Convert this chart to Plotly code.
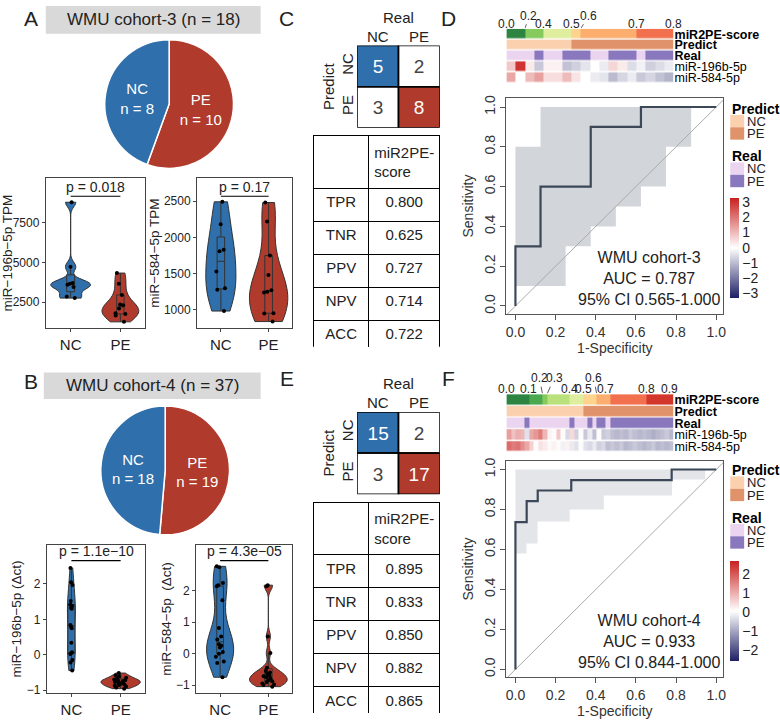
import numpy as np
import plotly.graph_objects as go

W, H = 780, 721
FONT = "Liberation Sans, Arial, sans-serif"
INK = "#222222"
BLUE = "#2F6FAB"
RED = "#B03B2C"
PRED_NC, PRED_PE = "#FBD0AF", "#E0926A"
REAL_NC, REAL_PE = "#EBD4EF", "#8A78BE"
MINUS = "\u2212"

# ---------------- data ----------------
groups = ["PE", "NC"]
A_counts = [10, 8]
B_counts = [19, 18]
A_title = "WMU cohort-3 (n = 18)"
B_title = "WMU cohort-4 (n = 37)"

A_196_nc = [8800, 4730, 3700, 3650, 3600, 3450, 2850, 2750]
A_196_pe = [4330, 3650, 2950, 2350, 2300, 2100, 1800, 1750, 1650, 1250]
A_584_nc = [2490, 2180, 1830, 1810, 1530, 1300, 1280, 985]
A_584_pe = [2480, 2220, 1750, 1480, 1270, 1250, 1240, 955, 950, 840]
B_196_nc = [2.45, 2.05, 1.97, 1.52, 1.42, 1.38, 1.33, 1.30, 0.84, 0.80, 0.75,
            0.34, 0.07, 0.04, 0.02, -0.15, -0.22, -0.45]
B_196_pe = [-0.52, -0.58, -0.62, -0.65, -0.68, -0.70, -0.72, -0.74, -0.75, -0.77,
            -0.78, -0.80, -0.82, -0.84, -0.86, -0.88, -0.90, -0.93, -0.96]
B_584_nc = [2.78, 2.75, 2.25, 2.18, 2.15, 1.70, 0.82, 0.55, 0.45, 0.30, 0.25,
            0.20, 0.05, 0.0, -0.10, -0.25, -0.30, -0.75]
B_584_pe = [2.18, 2.15, 0.55, 0.02, -0.45, -0.55, -0.60, -0.65, -0.70, -0.72,
            -0.75, -0.80, -0.85, -0.88, -0.90, -0.95, -0.98, -1.0, -1.05]
p_labels = ["p = 0.018", "p = 0.17", "p = 1.1e" + MINUS + "10", "p = 4.3e" + MINUS + "05"]
y_titles = ["miR" + MINUS + "196b" + MINUS + "5p TPM", "miR" + MINUS + "584" + MINUS + "5p TPM",
            "miR" + MINUS + "196b" + MINUS + "5p (\u0394ct)", "miR" + MINUS + "584" + MINUS + "5p  (\u0394ct)"]

cm_labels = ["NC", "PE"]
C_cm = [[5, 2], [3, 8]]
E_cm = [[15, 2], [3, 17]]
metrics = ["TPR", "TNR", "PPV", "NPV", "ACC"]
C_vals = ["0.800", "0.625", "0.727", "0.714", "0.722"]
E_vals = ["0.895", "0.833", "0.850", "0.882", "0.865"]

D_score = [0.05, 0.08, 0.22, 0.28, 0.42, 0.45, 0.48, 0.55, 0.62, 0.63, 0.65, 0.66,
           0.67, 0.69, 0.72, 0.74, 0.77, 0.79]
D_real = ["NC", "NC", "NC", "PE", "NC", "NC", "PE", "PE", "PE", "NC", "NC", "PE",
          "PE", "PE", "NC", "PE", "PE", "PE"]
D_mir196 = [0.8, 3.0, 0.3, -0.8, 0.2, 0.2, -0.9, -0.7, -0.4, 0.0, -0.3, 0.6, 0.3,
            -0.5, -0.2, -0.7, -0.5, -0.3]
D_mir584 = [1.3, 0.0, 1.0, 1.4, 0.5, 0.5, 1.0, 0.4, 0.0, -0.3, -0.4, -1.0, -0.6,
            -0.3, -0.8, -0.6, -0.9, -1.1]
D_ticks = ["0.0", "0.2", "0.4", "0.5", "0.6", "0.7", "0.8"]

F_score = [0.02, 0.04, 0.05, 0.07, 0.09, 0.12, 0.15, 0.18, 0.22, 0.30, 0.32, 0.34,
           0.36, 0.38, 0.42, 0.45, 0.48, 0.52, 0.55, 0.58, 0.62, 0.66, 0.70, 0.71,
           0.72, 0.73, 0.74, 0.75, 0.76, 0.77, 0.79, 0.80, 0.82, 0.84, 0.86, 0.88, 0.89]
F_real = ["NC"] * 4 + ["PE"] + ["NC"] * 9 + ["PE"] + ["NC"] * 3 + ["PE", "NC", "PE", "PE", "NC"] + ["PE"] * 14
F_mir196 = [1.2, 0.8, 1.0, 0.9, -0.3, 1.1, 1.3, 1.6, 0.9, 0.2, 0.0, 0.7, 0.1, -0.4,
            0.5, -0.5, 0.1, -0.6, -0.2, -0.7, 0.1, -0.6, -0.5, -0.7, -0.8, -0.7,
            -0.8, -0.6, -0.7, -0.8, -0.7, -0.8, -0.9, -0.8, -0.7, -0.6, -0.8]
F_mir584 = [1.8, 1.6, 1.7, 1.4, 1.1, 0.6, 0.1, 0.4, 0.3, 0.0, 0.2, 0.1, -0.1, 0.2,
            -0.2, -0.3, 0.0, -0.3, -0.4, -0.2, -0.5, -0.4, -0.7, -0.6, -0.7, -0.6,
            -0.8, -0.7, -0.6, -0.7, -0.8, -0.7, -0.6, -0.8, -0.7, -0.8, -0.7]
F_ticks = ["0.0", "0.1", "0.2", "0.3", "0.4", "0.5", "0.6", "0.7", "0.8", "0.9"]
row_names = ["<b>miR2PE-score</b>", "<b>Predict</b>", "<b>Real</b>", "miR-196b-5p", "miR-584-5p"]

D_fpr = [0, 0, 0.125, 0.125, 0.375, 0.375, 0.625, 0.625, 1.0]
D_tpr = [0, 0.3, 0.3, 0.6, 0.6, 0.9, 0.9, 1.0, 1.0]
D_ci_x = [0, 0, 0.125, 0.125, 0.875, 0.875, 0.75, 0.75, 0.625, 0.625, 0.5, 0.5, 0.375, 0.375, 0.25, 0.25]
D_ci_y = [0.1, 0.8, 0.8, 1.0, 1.0, 0.8, 0.8, 0.6, 0.6, 0.5, 0.5, 0.4, 0.4, 0.3, 0.3, 0.1]
D_text = ["WMU cohort-3", "AUC = 0.787", "95% CI 0.565-1.000"]
F_fpr = [0, 0, 0.056, 0.056, 0.111, 0.111, 0.278, 0.278, 0.778, 0.778, 1.0]
F_tpr = [0, 0.737, 0.737, 0.842, 0.842, 0.895, 0.895, 0.947, 0.947, 1.0, 1.0]
F_ci_x = [0, 0.945, 0.945, 0.78, 0.78, 0.44, 0.44, 0.27, 0.27, 0.11, 0.11, 0.055, 0.055, 0]
F_ci_y = [1.0, 1.0, 0.95, 0.95, 0.87, 0.87, 0.80, 0.80, 0.74, 0.74, 0.63, 0.63, 0.58, 0.58]
F_text = ["WMU cohort-4", "AUC = 0.933", "95% CI 0.844-1.000"]
roc_ticks = [0, 0.2, 0.4, 0.6, 0.8, 1.0]

# ---------------- helpers ----------------
def px(x):
    return x / W

def py(y):
    return 1 - y / H

def k(n):
    return "" if n == 1 else str(n)

def nrd0(v):
    # R's default density bandwidth, so the violins look like ggplot's
    v = np.asarray(v, dtype=float)
    q75, q25 = np.percentile(v, [75, 25])
    return 0.9 * min(v.std(ddof=1), (q75 - q25) / 1.34) * len(v) ** -0.2

fig = go.Figure()
lay = {}
shapes = []
ann = []

def text(x, y, s, size=14, **kw):
    d = dict(x=x, y=y, text=s, showarrow=False, xanchor="center", yanchor="middle",
             xref="paper", yref="paper", font=dict(size=size, color=INK, family=FONT))
    d.update(kw)
    ann.append(d)

# panel letters
for lab, (x, y) in zip("ABCDEF", [(30, 16), (30, 382), (287, 16), (450, 16), (287, 379), (450, 379)]):
    text(px(x), py(y), lab, size=21)

# ---------------- pies + title bars ----------------
for counts, title, bar, pie in [(A_counts, A_title, (45, 3, 261, 31), (104, 37, 234, 167)),
                                (B_counts, B_title, (43, 373, 261, 400), (100, 407, 230, 537))]:
    shapes.append(dict(type="rect", xref="paper", yref="paper", x0=px(bar[0]), x1=px(bar[2]),
                       y0=py(bar[3]), y1=py(bar[1]), fillcolor="#D9D9D9", line=dict(width=0), layer="below"))
    text(px((bar[0] + bar[2]) / 2), py((bar[1] + bar[3]) / 2), title, size=17)
    fig.add_trace(go.Pie(labels=groups, values=counts, sort=False, direction="clockwise", rotation=0,
                         text=[f"{g}<br>n = {c}" for g, c in zip(groups, counts)], textinfo="text",
                         textposition="inside", insidetextorientation="horizontal",
                         textfont=dict(color="white", size=15, family=FONT),
                         marker=dict(colors=[RED, BLUE], line=dict(color="white", width=1.5)),
                         domain=dict(x=[px(pie[0]), px(pie[2])], y=[py(pie[3]), py(pie[1])]),
                         hoverinfo="skip", showlegend=False))

# ---------------- violins ----------------
violin_sets = [(A_196_nc, A_196_pe), (A_584_nc, A_584_pe), (B_196_nc, B_196_pe), (B_584_nc, B_584_pe)]
violin_boxes = [((45, 145), (177, 328)), ((197, 293), (177, 328)), ((46, 145), (547, 697)), ((196, 293), (547, 697))]
violin_ranges = [[875, 10312], [754, 2814], [-1.09, 3.11], [-1.26, 3.47]]
violin_ticks = [[2500, 5000, 7500], [1000, 1500, 2000, 2500], [-1, 0, 1, 2], [-1, 0, 1, 2]]
violin_widths = [(0.8, 0.74), (0.63, 0.8), (0.16, 0.8), (0.56, 0.78)]
box_widths = [(0.2, 0.2), (0.25, 0.2), (0.9, 0.2), (0.25, 0.2)]
pline_y = [0.88, 0.88, 0.893, 0.893]

for i, (nc, pe) in enumerate(violin_sets):
    n = i + 1
    for grp, vals, col, w, bw in [("NC", nc, BLUE, violin_widths[i][0], box_widths[i][0]),
                                  ("PE", pe, RED, violin_widths[i][1], box_widths[i][1])]:
        fig.add_trace(go.Violin(x=[grp] * len(vals), y=vals, xaxis="x" + k(n), yaxis="y" + k(n),
                                fillcolor=col, opacity=1, line=dict(color="#333333", width=1),
                                width=w, spanmode="hard", bandwidth=nrd0(vals),
                                points="all", pointpos=0, jitter=0.4,
                                marker=dict(color="black", size=4),
                                box=dict(visible=True, width=bw, fillcolor=col, line=dict(color="#333333", width=1)),
                                meanline_visible=False, hoverinfo="skip", showlegend=False))
    (x0, x1), (y0, y1) = violin_boxes[i]
    lay["xaxis" + k(n)] = dict(domain=[px(x0), px(x1)], anchor="y" + k(n), type="category",
                               categoryorder="array", categoryarray=cm_labels, range=[-0.5, 1.5],
                               showline=True, mirror=True, linecolor="#444", ticks="outside", ticklen=3,
                               tickcolor="#444", tickfont=dict(size=15, color=INK), showgrid=False, zeroline=False)
    lay["yaxis" + k(n)] = dict(domain=[py(y1), py(y0)], anchor="x" + k(n), range=violin_ranges[i],
                               tickvals=violin_ticks[i], showline=True, mirror=True, linecolor="#444",
                               ticks="outside", ticklen=3, tickcolor="#444", tickfont=dict(size=12, color=INK),
                               showgrid=False, zeroline=False,
                               title=dict(text=y_titles[i], font=dict(size=13.5, color=INK), standoff=1))
    shapes.append(dict(type="line", xref="x" + k(n), yref="y" + k(n) + " domain", x0=0, x1=1,
                       y0=pline_y[i], y1=pline_y[i], line=dict(color="black", width=1.2)))
    text(0.5, pline_y[i] - 0.005, p_labels[i], size=14, xref="x" + k(n), yref="y" + k(n) + " domain",
         yanchor="bottom")

# ---------------- confusion matrices + tables ----------------
for n, cm, vals, top in [(5, C_cm, C_vals, 0), (6, E_cm, E_vals, 370)]:
    code = [[(r + 1 if r == c else 0) for c in range(2)] for r in range(2)]
    fig.add_trace(go.Heatmap(x=[0, 1], y=[0, 1], z=code, zmin=0, zmax=2,
                             colorscale=[[0, "white"], [0.5, "white"], [0.5, BLUE], [0.75, BLUE], [0.75, RED], [1, RED]],
                             text=cm, texttemplate="%{text}", textfont=dict(size=19, family=FONT),
                             showscale=False, xaxis="x" + k(n), yaxis="y" + k(n), hoverinfo="skip"))
    for r in range(2):
        for c in range(2):
            shapes.append(dict(type="rect", xref="x" + k(n), yref="y" + k(n), x0=c - 0.5, x1=c + 0.5,
                               y0=r - 0.5, y1=r + 0.5, line=dict(color="black", width=1.5)))
    lay["xaxis" + k(n)] = dict(domain=[px(358), px(441)], anchor="y" + k(n), side="top", range=[-0.5, 1.5],
                               tickvals=[0, 1], ticktext=cm_labels, ticks="", showgrid=False, zeroline=False,
                               showline=False, tickfont=dict(size=15, color=INK),
                               title=dict(text="Real", font=dict(size=15, color=INK), standoff=0))
    lay["yaxis" + k(n)] = dict(domain=[py(top + 126), py(top + 43)], anchor="x" + k(n), range=[1.5, -0.5],
                               tickvals=[0, 1], ticktext=cm_labels, tickangle=-90, ticks="", showgrid=False,
                               zeroline=False, showline=False, tickfont=dict(size=15, color=INK),
                               title=dict(text="Predict", font=dict(size=15, color=INK), standoff=0))
    fig.add_trace(go.Table(domain=dict(x=[px(314), px(441)], y=[py(top + 348), py(top + 134)]),
                           columnwidth=[56, 71],
                           header=dict(values=["", "miR2PE-<br>score"], height=41, align="center",
                                       fill_color="white", line=dict(color="black", width=1),
                                       font=dict(size=15, color=INK, family=FONT)),
                           cells=dict(values=[metrics, vals], height=33, align="center",
                                      fill_color="white", line=dict(color="black", width=1),
                                      font=dict(size=15, color=INK, family=FONT))))

# ---------------- annotation heatmaps ----------------
score_bins = ["#2C8440", "#4BA84F", "#86CA5E", "#B9E07B", "#DFEE9E", "#FDD38D", "#FCAE6E", "#F2704D", "#D3372B"]
score_cs = []
for b, c in enumerate(score_bins):
    score_cs += [[b / len(score_bins), c], [(b + 1) / len(score_bins), c]]
bwr = [[0, "#1E1E64"], [0.5, "#FFFFFF"], [1, "#C8201E"]]

hm_specs = [
    (7, D_score, D_real, D_mir196, D_mir584, (26, 81), (-3.3, 3.3), D_ticks,
     [0, 2, 4, 7, 8, 14, 18], {1: (4, -13), 4: (8, -13)}, 21, (197, 297), (107, 155), [-3, -2, -1, 0, 1, 2, 3]),
    (9, F_score, F_real, F_mir196, F_mir584, (395, 454), (-2.6, 2.7), F_ticks,
     [0, 5, 8, 9, 14, 17, 20, 22, 31, 36], {2: (-3, -16), 3: (7, -16), 6: (-3, -16)}, 390,
     (564, 664), (472, 520), [-2, -1, 0, 1, 2]),
]
for (n, score, real, m196, m584, (t, b), zlim, ticks, tcols, raised, ly, (c0, c1), (lp, lr), cbt) in hm_specs:
    cols = list(range(len(score)))
    pred = [1 if s >= 0.5 else 0 for s in score]
    realc = [1 if r == "PE" else 0 for r in real]
    common = dict(x=cols, xaxis="x" + k(n), yaxis="y" + k(n), ygap=1.5, hoverinfo="skip")
    fig.add_trace(go.Heatmap(y=[0], z=[score], zmin=0, zmax=0.9, colorscale=score_cs, showscale=False, **common))
    fig.add_trace(go.Heatmap(y=[1], z=[pred], zmin=0, zmax=1, colorscale=[[0, PRED_NC], [1, PRED_PE]],
                             showscale=False, **common))
    fig.add_trace(go.Heatmap(y=[2], z=[realc], zmin=0, zmax=1, colorscale=[[0, REAL_NC], [1, REAL_PE]],
                             showscale=False, **common))
    fig.add_trace(go.Heatmap(y=[3, 4], z=[m196, m584], zmin=zlim[0], zmax=zlim[1], colorscale=bwr,
                             showscale=True,
                             colorbar=dict(x=px(733), xanchor="left", y=py((c0 + c1) / 2), yanchor="middle",
                                           thickness=9, thicknessmode="pixels", len=c1 - c0, lenmode="pixels",
                                           outlinewidth=0, tickvals=cbt,
                                           ticktext=[str(v).replace("-", MINUS) for v in cbt],
                                           ticks="", tickfont=dict(size=14, color=INK, family=FONT), xpad=0, ypad=0),
                             **common))
    lay["xaxis" + k(n)] = dict(domain=[px(508), px(676)], anchor="y" + k(n), range=[-0.5, len(score) - 0.5],
                               visible=False)
    lay["yaxis" + k(n)] = dict(domain=[py(b), py(t)], anchor="x" + k(n), range=[4.5, -0.5], side="right",
                               tickvals=[0, 1, 2, 3, 4], ticktext=row_names, ticks="", showgrid=False,
                               zeroline=False, showline=False, tickfont=dict(size=12.5, color="black", family=FONT))
    for j, (lab, c) in enumerate(zip(ticks, tcols)):
        if j in raised:
            ax, ay = raised[j]
            ann.append(dict(x=c - 0.5, y=py(t), xref="x" + k(n), yref="paper", text=lab, showarrow=True,
                            arrowhead=0, arrowwidth=0.8, arrowcolor="#333", ax=ax, ay=ay, standoff=1,
                            font=dict(size=12, color=INK, family=FONT)))
        else:
            text(c - 0.5, py(ly), lab, size=12, xref="x" + k(n))
    # legends
    for title_y, name, colors in [(lp, "Predict", (PRED_NC, PRED_PE)), (lr, "Real", (REAL_NC, REAL_PE))]:
        text(px(733), py(title_y), "<b>" + name + "</b>", xanchor="left",
             font=dict(size=14, color="black", family=FONT))
        for q, (lab, colr) in enumerate(zip(cm_labels, colors)):
            y0 = title_y + 6 + q * 12.5
            shapes.append(dict(type="rect", xref="paper", yref="paper", x0=px(733), x1=px(747),
                               y0=py(y0 + 12.5), y1=py(y0), fillcolor=colr, line=dict(width=0)))
            text(px(748), py(y0 + 6.5), lab, size=13, xanchor="left")

# ---------------- ROC ----------------
for n, fpr, tpr, cx, cy, lines, (t, b), gray in [
        (8, D_fpr, D_tpr, D_ci_x, D_ci_y, D_text, (96, 314), "#D2D5DA"),
        (10, F_fpr, F_tpr, F_ci_x, F_ci_y, F_text, (462, 681), "#E3E5E8")]:
    ref = dict(xaxis="x" + k(n), yaxis="y" + k(n), hoverinfo="skip", showlegend=False)
    fig.add_trace(go.Scatter(x=cx, y=cy, fill="toself", fillcolor=gray, mode="lines", line=dict(width=0), **ref))
    fig.add_trace(go.Scatter(x=[-0.1, 1.1], y=[-0.1, 1.1], mode="lines", line=dict(color="#AAAAAA", width=1), **ref))
    fig.add_trace(go.Scatter(x=fpr, y=tpr, mode="lines", line=dict(color="#3C4858", width=2.2), **ref))
    text(0.666, 0.14, "<br>".join(lines), size=16, xref="x" + k(n), yref="y" + k(n))
    axc = dict(showline=True, mirror=True, linecolor="#555", linewidth=1, ticks="outside", ticklen=5,
               tickcolor="#555", tickvals=roc_ticks, tickformat=".1f", showgrid=False, zeroline=False,
               tickfont=dict(size=14, color="#333", family=FONT))
    lay["xaxis" + k(n)] = dict(domain=[px(508), px(726)], anchor="y" + k(n), range=[-0.045, 1.035],
                               title=dict(text="1-Specificity", font=dict(size=14, color="#333"), standoff=4), **axc)
    lay["yaxis" + k(n)] = dict(domain=[py(b), py(t)], anchor="x" + k(n), range=[-0.04, 1.045], tickangle=-90,
                               title=dict(text="Sensitivity", font=dict(size=14, color="#333"), standoff=4), **axc)

fig.update_layout(width=W, height=H, margin=dict(l=0, r=0, t=0, b=0), paper_bgcolor="white",
                  plot_bgcolor="white", showlegend=False, violinmode="overlay",
                  font=dict(family=FONT, color=INK), shapes=shapes, annotations=ann, **lay)
fig.write_html("out.html", config={"displayModeBar": False},
               post_script="document.body.style.margin='0';")
